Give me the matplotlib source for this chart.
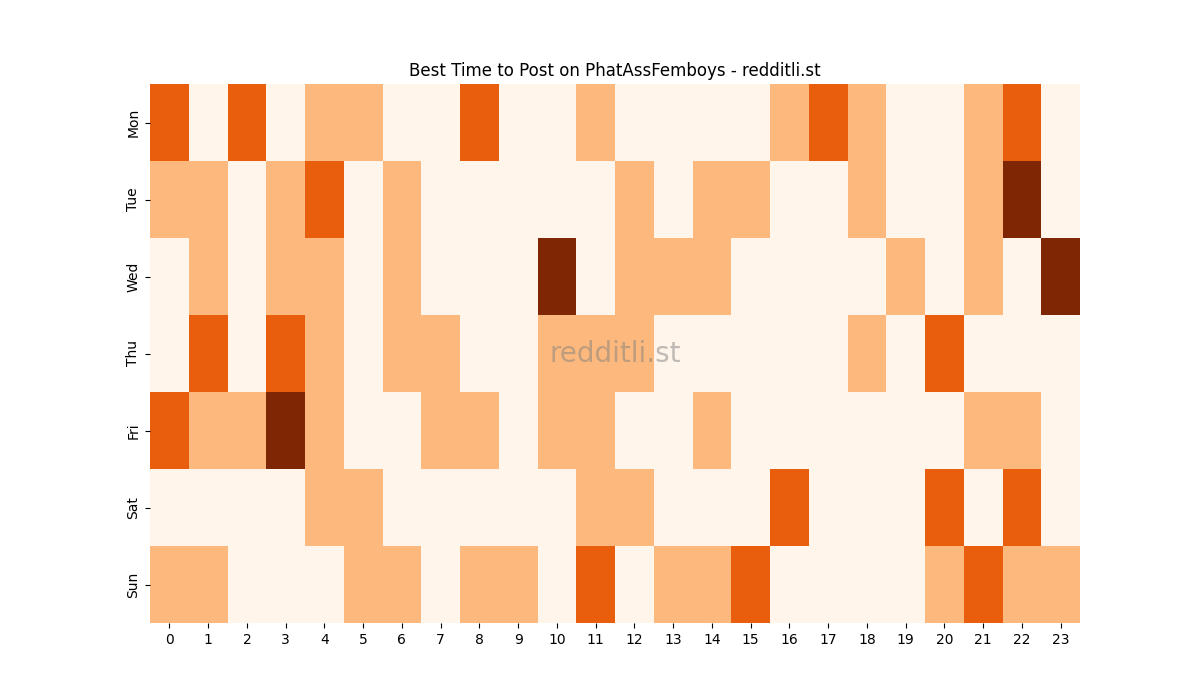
import matplotlib
matplotlib.use("Agg")
import matplotlib.pyplot as plt
import seaborn as sns
import numpy as np

days = ["Mon", "Tue", "Wed", "Thu", "Fri", "Sat", "Sun"]
hours = [str(h) for h in range(24)]
mon = [2,0,2,0,1,1,0,0,2,0,0,1,0,0,0,0,1,2,1,0,0,1,2,0]
tue = [1,1,0,1,2,0,1,0,0,0,0,0,1,0,1,1,0,0,1,0,0,1,3,0]
wed = [0,1,0,1,1,0,1,0,0,0,3,0,1,1,1,0,0,0,0,1,0,1,0,3]
thu = [0,2,0,2,1,0,1,1,0,0,1,1,1,0,0,0,0,0,1,0,2,0,0,0]
fri = [2,1,1,3,1,0,0,1,1,0,1,1,0,0,1,0,0,0,0,0,0,1,1,0]
sat = [0,0,0,0,1,1,0,0,0,0,0,1,1,0,0,0,2,0,0,0,2,0,2,0]
sun = [1,1,0,0,0,1,1,0,1,1,0,2,0,1,1,2,0,0,0,0,1,2,1,1]

data = np.array([mon, tue, wed, thu, fri, sat, sun])

fig, ax = plt.subplots(figsize=(12, 7), dpi=100)
sns.heatmap(data, cmap="Oranges", vmin=0, vmax=3, cbar=False, ax=ax,
            xticklabels=hours, yticklabels=days)
ax.set_title("Best Time to Post on PhatAssFemboys - redditli.st")
ax.text(0.5, 0.5, "redditli.st", transform=ax.transAxes, ha="center", va="center",
        fontsize=20, color="gray", alpha=0.5)
fig.savefig("out.png")
